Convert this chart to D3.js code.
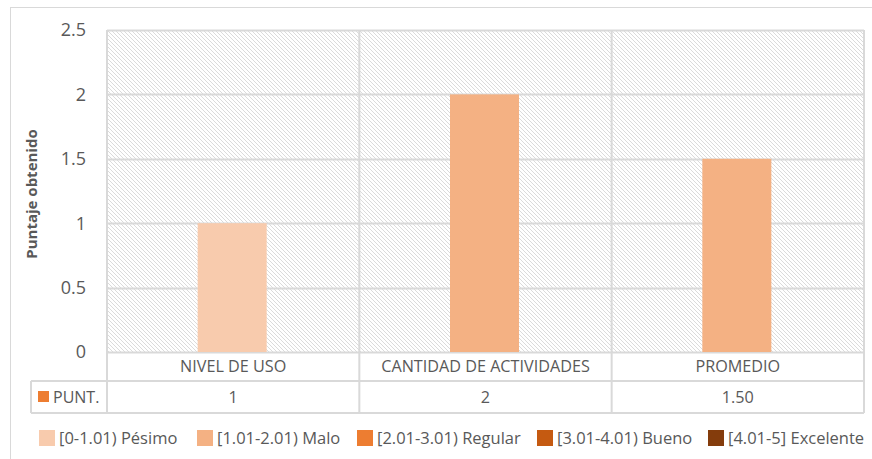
<!DOCTYPE html>
<html>
<head>
<meta charset="utf-8">
<script src="https://cdn.jsdelivr.net/npm/d3@7"></script>
<style>
  body { margin: 0; background: #fff; }
  text { font-family: "Open Sans", sans-serif; fill: #595959; }
</style>
</head>
<body>
<div id="chart"></div>
<script>
// data
const categories = ["NIVEL DE USO", "CANTIDAD DE ACTIVIDADES", "PROMEDIO"];
const values = [1, 2, 1.5];
const valueLabels = ["1", "2", "1.50"];
const yTicks = [0, 0.5, 1, 1.5, 2, 2.5];
const rangeNames = ["[0-1.01) Pésimo", "[1.01-2.01) Malo", "[2.01-3.01) Regular", "[3.01-4.01) Bueno", "[4.01-5] Excelente"];
const rangeLimits = [0, 1.01, 2.01, 3.01, 4.01];
const rangeColors = ["#f8cbad", "#f4b183", "#ed7d31", "#c55a11", "#843c0c"];

const W = 872, H = 459;
const margin = { top: 30, right: 8, bottom: 107, left: 107 };
const width = W - margin.left - margin.right,
    height = H - margin.top - margin.bottom;

const svg = d3.select("#chart")
    .append("svg")
    .attr("width", W)
    .attr("height", H);

// outer chart frame
svg.append("rect")
    .attr("x", 10.5).attr("y", 7.5)
    .attr("width", W).attr("height", H)
    .attr("fill", "none")
    .attr("stroke", "#d9d9d9");

// hatch pattern for the plot background
const pat = svg.append("defs").append("pattern")
    .attr("id", "hatch")
    .attr("patternUnits", "userSpaceOnUse")
    .attr("width", 4).attr("height", 4);
pat.append("path")
    .attr("d", "M-1,-1 L5,5 M-1,3 L1,5 M3,-1 L5,1")
    .attr("stroke", "#d9d9d9")
    .attr("stroke-width", 0.95);

const g = svg.append("g")
    .attr("transform", `translate(${margin.left}, ${margin.top})`);

const x = d3.scaleBand()
    .domain(categories)
    .range([0, width])
    .paddingInner(0)
    .paddingOuter(0);

const y = d3.scaleLinear()
    .domain([0, 2.5])
    .range([322, 0]);

g.append("rect")
    .attr("width", width)
    .attr("height", y(0))
    .attr("fill", "url(#hatch)");

// gridlines
g.selectAll(".grid")
    .data(yTicks)
    .join("line")
    .attr("x1", 0).attr("x2", width)
    .attr("y1", d => Math.round(y(d)) + 0.5)
    .attr("y2", d => Math.round(y(d)) + 0.5)
    .attr("stroke", "#d9d9d9")
    .attr("stroke-width", 2);

// y tick labels
g.selectAll(".ytick")
    .data(yTicks)
    .join("text")
    .attr("x", -21)
    .attr("y", d => y(d))
    .attr("dy", "0.35em")
    .attr("text-anchor", "end")
    .style("font-size", "18px")
    .text(d => d);

// bars
function colorFor(v) {
    let i = d3.bisectRight(rangeLimits, v) - 1;
    return rangeColors[Math.max(0, i)];
}
const barW = 69;
g.selectAll(".bar")
    .data(values)
    .join("rect")
    .attr("x", (d, i) => x(categories[i]) + x.bandwidth() / 2 - barW / 2 - 1)
    .attr("y", d => y(d))
    .attr("width", barW)
    .attr("height", d => y(0) - y(d))
    .attr("fill", d => colorFor(d));

// data table
const row1 = y(0), row2 = row1 + 29, row3 = row2 + 32;
const tableLeft = 31 - margin.left;
const gc = "#d9d9d9";
function hline(x1, x2, yy) {
    g.append("line").attr("x1", x1).attr("x2", x2)
        .attr("y1", yy).attr("y2", yy)
        .attr("stroke", gc).attr("stroke-width", 2);
}
function vline(xx, y1, y2) {
    g.append("line").attr("x1", xx).attr("x2", xx)
        .attr("y1", y1).attr("y2", y2)
        .attr("stroke", gc).attr("stroke-width", 2);
}
hline(tableLeft, width, row2);
hline(tableLeft, width, row3);
vline(tableLeft, row2, row3);
[0, 1, 2, 3].forEach(i => {
    const xx = i < 3 ? x(categories[i]) : width;
    vline(xx, 0, row3);
});

g.selectAll(".cat")
    .data(categories)
    .join("text")
    .attr("x", d => x(d) + x.bandwidth() / 2)
    .attr("y", (row1 + row2) / 2)
    .attr("dy", "0.35em")
    .attr("text-anchor", "middle")
    .style("font-size", "16.2px")
    .text(d => d);

g.selectAll(".val")
    .data(valueLabels)
    .join("text")
    .attr("x", (d, i) => x(categories[i]) + x.bandwidth() / 2)
    .attr("y", (row2 + row3) / 2)
    .attr("dy", "0.35em")
    .attr("text-anchor", "middle")
    .style("font-size", "16.2px")
    .text(d => d);

g.append("rect")
    .attr("x", 38 - margin.left).attr("y", row2 + 10)
    .attr("width", 11).attr("height", 11)
    .attr("fill", rangeColors[2]);
g.append("text")
    .attr("x", 53 - margin.left)
    .attr("y", (row2 + row3) / 2)
    .attr("dy", "0.35em")
    .style("font-size", "16px")
    .text("PUNT.");

// y axis title
svg.append("text")
    .attr("transform", "translate(37, 194) rotate(-90)")
    .attr("text-anchor", "middle")
    .style("font-size", "15px")
    .style("font-weight", "bold")
    .text("Puntaje obtenido");

// legend
const legendX = [39, 197, 357, 537, 708];
const leg = svg.selectAll(".leg")
    .data(rangeNames)
    .join("g")
    .attr("transform", (d, i) => `translate(${legendX[i]}, 438)`);
leg.append("rect")
    .attr("x", 0).attr("y", -8)
    .attr("width", 16).attr("height", 16)
    .attr("fill", (d, i) => rangeColors[i]);
leg.append("text")
    .attr("x", 20)
    .attr("dy", "0.35em")
    .style("font-size", "16.5px")
    .text(d => d);
</script>
</body>
</html>
